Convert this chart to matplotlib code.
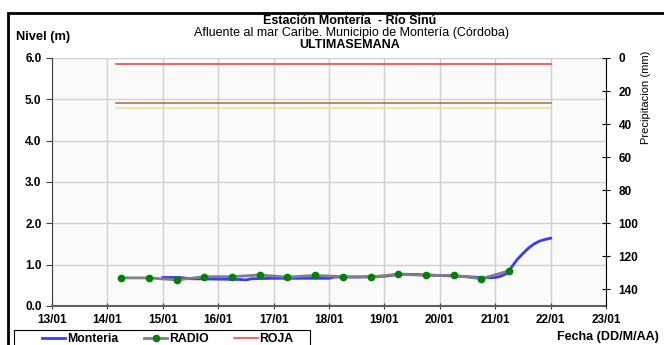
import matplotlib
matplotlib.use("Agg")
import matplotlib.pyplot as plt
from matplotlib.patches import Rectangle

plt.rcParams['font.family'] = ['Liberation Sans', 'DejaVu Sans']

# day of January (fractional) and level in m
monteria_t = [15.0, 15.3, 15.5, 16.0, 16.4, 16.5, 16.6, 17.0, 17.5, 18.0, 18.1, 18.5,
              19.0, 19.3, 19.6, 20.0, 20.5, 20.8, 21.0, 21.1, 21.2, 21.3, 21.4, 21.5,
              21.6, 21.7, 21.8, 21.9, 22.0]
monteria_v = [0.69, 0.69, 0.66, 0.65, 0.64, 0.63, 0.66, 0.67, 0.67, 0.67, 0.70, 0.70,
              0.72, 0.77, 0.76, 0.74, 0.71, 0.68, 0.69, 0.72, 0.78, 0.95, 1.13, 1.27,
              1.40, 1.50, 1.57, 1.61, 1.64]

radio_t = [14.25, 14.75, 15.25, 15.75, 16.25, 16.75, 17.25, 17.75, 18.25, 18.75,
           19.25, 19.75, 20.25, 20.75, 21.25]
radio_v = [0.68, 0.68, 0.63, 0.71, 0.71, 0.75, 0.70, 0.74, 0.71, 0.70,
           0.77, 0.74, 0.74, 0.66, 0.85]

alert_t = [14.15, 22.0]
roja = 5.85
naranja = 4.9
amarilla = 4.8

day_ticks = list(range(13, 24))
day_labels = ['%02d/01' % d for d in day_ticks]

TICK_FS = 8.5
TITLE_FS = 9

fig = plt.figure(figsize=(6.64, 3.45), dpi=100)
ax = fig.add_axes([52/664, 1 - 306/345, (606 - 52)/664, (306 - 58)/345])
ax.set_facecolor('#fafafa')

ax.plot(alert_t, [roja, roja], color='#ff3030', lw=1.1, label='ROJA')
ax.plot(alert_t, [naranja, naranja], color='#a0703a', lw=1.1)
ax.plot(alert_t, [amarilla, amarilla], color='#f0e080', lw=1.1)
l1, = ax.plot(monteria_t, monteria_v, color='#3a3aff', lw=2, label='Monteria')
l2, = ax.plot(radio_t, radio_v, color='#808080', lw=2, marker='o', ms=4.5,
              mfc='#008000', mec='#008000', label='RADIO')

ax.set_xlim(13, 23)
ax.set_ylim(0, 6)
ax.set_xticks(day_ticks)
ax.set_xticklabels(day_labels)
ax.set_yticks([0, 1, 2, 3, 4, 5, 6])
ax.set_yticklabels(['%.1f' % v for v in range(7)])
ax.grid(True, color='#d0d0d0', lw=1)
ax.set_axisbelow(True)
for s in ['top', 'right']:
    ax.spines[s].set_visible(False)
ax.spines['left'].set_color('#404040')
ax.spines['bottom'].set_color('#606060')
ax.spines['bottom'].set_linewidth(1.5)
ax.tick_params(axis='both', labelsize=TICK_FS, length=4, color='#404040')
ax.tick_params(axis='x', direction='inout', length=5)
for t in ax.get_xticklabels() + ax.get_yticklabels():
    t.set_fontweight('bold')

ax2 = ax.twinx()
ax2.set_ylim(150, 0)
ax2.set_yticks(range(0, 141, 20))
ax2.tick_params(axis='y', direction='inout', length=6, labelsize=TICK_FS, pad=6)
for t in ax2.get_yticklabels():
    t.set_fontweight('bold')
for s in ['top', 'left', 'bottom']:
    ax2.spines[s].set_visible(False)
ax2.spines['right'].set_color('black')

fig.text(0.527, 1 - 21.5/345, 'Estación Montería  - Río Sinú', ha='center', va='center',
         fontsize=TITLE_FS, fontweight='bold')
fig.text(0.529, 1 - 33/345, 'Afluente al mar Caribe. Municipio de Montería (Córdoba)',
         ha='center', va='center', fontsize=TITLE_FS)
fig.text(0.527, 1 - 44.5/345, 'ULTIMASEMANA', ha='center', va='center',
         fontsize=TITLE_FS, fontweight='bold')
fig.text(16/664, 1 - 37/345, 'Nivel (m)', ha='left', va='center', fontsize=9.3,
         fontweight='bold')
fig.text(646/664, 1 - 97/345, 'Precipitacion (mm)', ha='center', va='center',
         fontsize=8, rotation=90)
fig.text(659/664, 1 - 337/345, 'Fecha (DD/M/AA)', ha='right', va='center',
         fontsize=9, fontweight='bold')

# legend: own frame box, entries placed inside
fig.patches.append(Rectangle((14/664, -0.1), 296/664, 0.1 + 1 - 330/345,
                             transform=fig.transFigure, fill=False, ec='black', lw=0.8))
leg = fig.legend(handles=[l1, l2, ax.lines[0]], loc='center left', ncol=3,
                 bbox_to_anchor=(42/664, 1 - 339/345), frameon=False,
                 borderpad=0, borderaxespad=0, handlelength=1.9, columnspacing=2.1,
                 handletextpad=0.15, prop={'weight': 'bold', 'size': 8.8})

fig.patches.append(Rectangle((8/664, -0.1), 1.2, 1 - 13/345 + 0.1, transform=fig.transFigure,
                             fill=False, ec='black', lw=2))

fig.savefig('out.png', dpi=100)
